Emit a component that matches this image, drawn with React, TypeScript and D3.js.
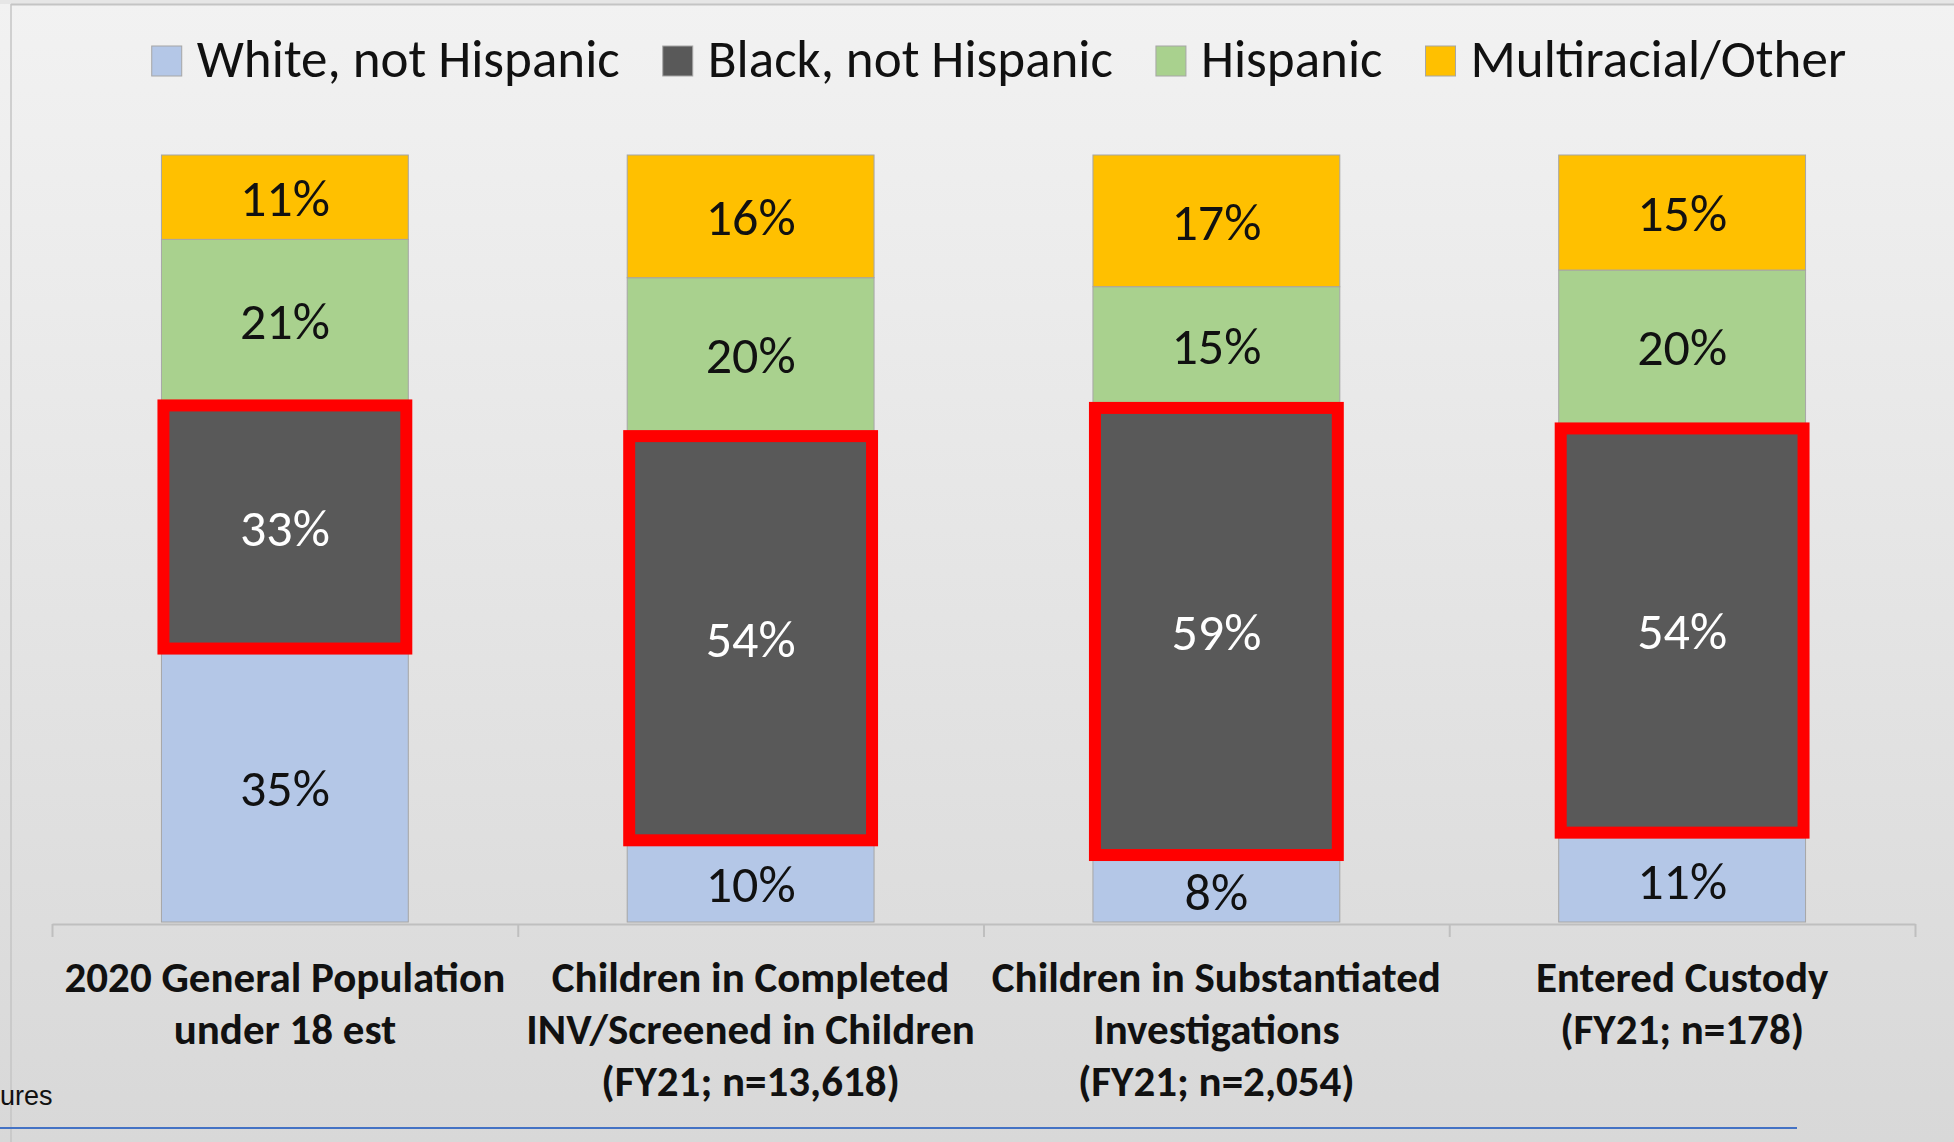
import React, { useEffect, useRef } from "react";
import * as d3 from "d3";

const W = 1954;
const H = 1142;

const categories = [
  ["2020 General Population", "under 18 est"],
  ["Children in Completed", "INV/Screened in Children", "(FY21; n=13,618)"],
  ["Children in Substantiated", "Investigations", "(FY21; n=2,054)"],
  ["Entered Custody", "(FY21; n=178)"],
];
const seriesNames = ["White, not Hispanic", "Black, not Hispanic", "Hispanic", "Multiracial/Other"];
const seriesColors = ["#b4c7e7", "#595959", "#a9d18e", "#ffc000"];
const labelColors = ["#111", "#fff", "#111", "#111"];
const white = [35, 10, 8, 11];
const black = [33, 54, 59, 54];
const hispanic = [21, 20, 15, 20];
const multi = [11, 16, 17, 15];
const highlighted = "Black, not Hispanic";
const footText = "ures";

const FONT = "Carlito, Calibri, Lato, sans-serif";

export default function App() {
  const ref = useRef<SVGSVGElement>(null);

  useEffect(() => {
    const svg = d3.select(ref.current);
    svg.selectAll("*").remove();

    const rows = categories.map((c, i) => ({
      i,
      [seriesNames[0]]: white[i],
      [seriesNames[1]]: black[i],
      [seriesNames[2]]: hispanic[i],
      [seriesNames[3]]: multi[i],
    }));

    const x = d3.scaleBand<number>()
      .domain(categories.map((c, i) => i))
      .range([52, 1915])
      .paddingInner(0.47)
      .paddingOuter(0.235);
    const y = d3.scaleLinear().domain([0, 1]).range([922, 155]);
    const color = d3.scaleOrdinal<string, string>().domain(seriesNames).range(seriesColors);

    const stacked = d3.stack<any>().keys(seriesNames).offset(d3.stackOffsetExpand)(rows);

    // background
    const grad = svg.append("defs").append("linearGradient")
      .attr("id", "bg").attr("x1", 0).attr("y1", 0).attr("x2", 0).attr("y2", 1);
    grad.append("stop").attr("offset", "0%").attr("stop-color", "#f2f2f2");
    grad.append("stop").attr("offset", "100%").attr("stop-color", "#d8d8d8");
    svg.append("rect").attr("width", W).attr("height", H).attr("fill", "url(#bg)");
    svg.append("rect").attr("width", W).attr("height", 4).attr("fill", "#e6e6e6");
    svg.append("line").attr("x1", 11).attr("x2", W).attr("y1", 4.5).attr("y2", 4.5)
      .attr("stroke", "#c4c4c4").attr("stroke-width", 2);
    svg.append("line").attr("x1", 11).attr("x2", 11).attr("y1", 4).attr("y2", H)
      .attr("stroke", "#c4c4c4").attr("stroke-width", 1.5);

    // legend
    const legend = svg.append("g");
    const items = legend.selectAll("g").data(seriesNames).enter().append("g");
    items.append("rect")
      .attr("width", 30).attr("height", 30).attr("y", 46)
      .attr("fill", (d) => color(d)).attr("stroke", "#a6a6a6").attr("stroke-width", 1);
    items.append("text")
      .attr("x", 45).attr("y", 77)
      .attr("font-family", FONT).attr("font-size", 53).attr("fill", "#111")
      .text((d) => d);
    let cx = 0;
    const widths: number[] = [];
    items.each(function () {
      const t = d3.select(this).select("text").node() as SVGTextElement;
      widths.push(45 + t.getComputedTextLength());
    });
    const total = d3.sum(widths) + 43 * (widths.length - 1);
    cx = 999 - total / 2;
    items.attr("transform", (d, i) => {
      const tx = cx;
      cx += widths[i] + 43;
      return `translate(${tx},0)`;
    });

    // bars
    const layers = svg.append("g").selectAll("g").data(stacked).enter().append("g")
      .attr("fill", (d) => color(d.key));
    layers.selectAll("rect").data((d) => d).enter().append("rect")
      .attr("x", (d) => x(d.data.i)!)
      .attr("width", x.bandwidth())
      .attr("y", (d) => y(d[1]))
      .attr("height", (d) => y(d[0]) - y(d[1]))
      .attr("stroke", "#a6a6a6").attr("stroke-width", 1);

    // highlight boxes
    const hl = stacked.find((s) => s.key === highlighted)!;
    svg.append("g").selectAll("rect").data(hl).enter().append("rect")
      .attr("x", (d) => x(d.data.i)! + 2)
      .attr("width", x.bandwidth() - 4)
      .attr("y", (d) => y(d[1]) + 5)
      .attr("height", (d) => y(d[0]) - y(d[1]) - 10)
      .attr("fill", "none").attr("stroke", "#ff0000").attr("stroke-width", 12);

    // value labels
    const lbl = svg.append("g").selectAll("g").data(stacked).enter().append("g")
      .attr("fill", (d, i) => labelColors[i]);
    lbl.selectAll("text").data((d) => d.map((p) => ({ p, key: d.key }))).enter().append("text")
      .attr("x", (d) => x(d.p.data.i)! + x.bandwidth() / 2)
      .attr("y", (d) => (y(d.p[0]) + y(d.p[1])) / 2)
      .attr("dy", "0.36em")
      .attr("text-anchor", "middle")
      .attr("font-family", FONT).attr("font-size", 52)
      .text((d) => `${d.p.data[d.key]}%`);

    // category axis with ticks between categories
    const xb = d3.scaleLinear().domain([0, categories.length]).range([52, 1915]);
    const axis = svg.append("g").attr("transform", "translate(0,924)")
      .call(d3.axisBottom(xb).ticks(categories.length).tickSize(13).tickSizeOuter(0).tickFormat(() => ""));
    axis.selectAll("path, line").attr("stroke", "#bfbfbf").attr("stroke-width", 2);

    const cat = svg.append("g").selectAll("text").data(categories).enter().append("text")
      .attr("x", (d, i) => x(i)! + x.bandwidth() / 2)
      .attr("y", 992)
      .attr("text-anchor", "middle")
      .attr("font-family", FONT).attr("font-size", 43).attr("font-weight", "bold").attr("fill", "#111");
    cat.selectAll("tspan").data((d) => d).enter().append("tspan")
      .attr("x", function () { return (this.parentNode as SVGTextElement).getAttribute("x"); })
      .attr("dy", (d, j) => (j === 0 ? 0 : 52))
      .text((d) => d);

    // clipped text and slide rule
    svg.append("text").attr("x", 0).attr("y", 1105)
      .attr("font-family", "'Liberation Sans', Arial, sans-serif").attr("font-size", 27).attr("fill", "#111")
      .text(footText);
    svg.append("line").attr("x1", 0).attr("x2", 1797).attr("y1", 1128).attr("y2", 1128)
      .attr("stroke", "#4472c4").attr("stroke-width", 2);
  }, []);

  return (
    <svg ref={ref} width={W} height={H}
      style={{ position: "absolute", left: 0, top: 0, display: "block" }} />
  );
}
